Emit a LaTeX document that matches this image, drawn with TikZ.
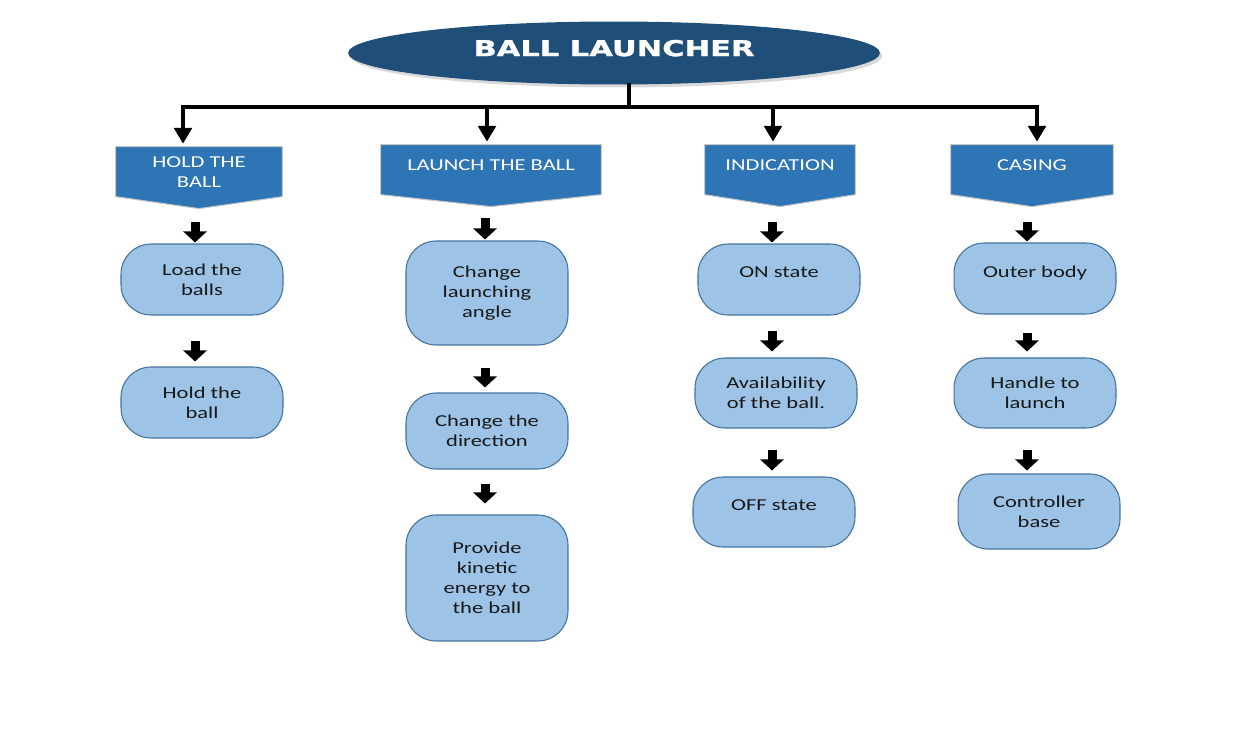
\documentclass[tikz,border=0pt]{standalone}
\usepackage{fontspec}
\setmainfont{Carlito}[FakeStretch=1.35]
\newfontfamily\titlefont{DejaVu Sans}[FakeStretch=1.4, FakeBold=1.5]
\usepackage{tikz}
\usetikzlibrary{positioning}
\usetikzlibrary{shapes}
\usetikzlibrary{arrows.meta}
\usetikzlibrary{shadows}
\usetikzlibrary{backgrounds}

\definecolor{titleBlue}{HTML}{1F4E79}
\definecolor{headBlue}{HTML}{2E75B6}
\definecolor{boxBlue}{HTML}{9DC3E6}
\definecolor{boxLine}{HTML}{41719C}

\tikzset{
	stepBox/.style={rectangle, draw=boxLine, fill=boxBlue, line width=0.6pt, rounded corners=0.6cm, minimum width=3.24cm, align=center, inner sep=0pt, text=black!90, font=\fontsize{9.5}{11.3}\selectfont},
	oneLine/.style={text depth=0.29cm},
	headBox/.style={rectangle, minimum height=0.8cm, align=center, inner sep=0pt, text=white, font=\fontsize{9.5}{11.3}\selectfont},
	busLine/.style={line width=2.3pt, line cap=rect},
	busArrow/.style={line width=2.3pt, -{Triangle[width=10pt,length=9pt]}, shorten >=0.06cm},
	blockArrow/.style 2 args={line width=0.18cm, -{Triangle[width=0.46cm,length=0.22cm]}, shorten <=#1, shorten >=#2}
}

\begin{document}
\begin{tikzpicture}[x=0.02cm, y=-0.02cm]
	\useasboundingbox (0,0) rectangle (1234,730);

	\node[ellipse, fill=titleBlue, minimum width=10.64cm, minimum height=1.26cm, inner sep=0pt, text=white, text depth=0.2cm, font=\titlefont\bfseries\fontsize{12.4}{14}\selectfont, drop shadow={opacity=0.3, shadow xshift=0.05cm, shadow yshift=-0.06cm}](ballTitle) at (614,53){BALL LAUNCHER};

	\coordinate (busMid) at (629,107);
	\coordinate (busHold) at (183,107);
	\coordinate (busLaunch) at (487,107);
	\coordinate (busInd) at (773,107);
	\coordinate (busCase) at (1037,107);
	\draw[busLine](ballTitle.south -| busMid) -- (busMid);
	\draw[busLine](busHold) -- (busCase);

	\node[headBox, minimum width=3.32cm, minimum height=1.0cm](holdHead) at (199,172){HOLD THE\\BALL};
	\node[headBox, minimum width=4.40cm](launchHead) at (491,165){LAUNCH THE BALL};
	\node[headBox, minimum width=3.00cm](indHead) at (780,165){INDICATION};
	\node[headBox, minimum width=3.24cm](caseHead) at (1032,165){CASING};

	\begin{scope}[on background layer]
		\foreach \h in {holdHead, launchHead, indHead, caseHead}
			\filldraw[fill=headBlue, draw=gray!45, line width=0.6pt](\h.north west) -- (\h.north east) -- ([yshift=-1.0cm]\h.north east) -- ([yshift=-1.24cm]\h.north) -- ([yshift=-1.0cm]\h.north west) -- cycle;
	\end{scope}

	\foreach \b/\h in {busHold/holdHead, busLaunch/launchHead, busInd/indHead, busCase/caseHead}
		\draw[busArrow](\b) -- (\b |- \h.north);

	\node[stepBox, minimum height=1.42cm](loadBalls) at (202,279.5){Load the\\balls};
	\node[stepBox, minimum height=1.42cm](holdBall) at (202,402.5){Hold the\\ball};

	\node[stepBox, minimum height=2.08cm](changeAngle) at (487,293){Change\\launching\\angle};
	\node[stepBox, minimum height=1.52cm](changeDir) at (487,431){Change the\\direction};
	\node[stepBox, minimum height=2.52cm](kinEnergy) at (487,578){Provide\\kinetic\\energy to\\the ball};

	\node[stepBox, oneLine, minimum height=1.42cm](onState) at (779,279.5){ON state};
	\node[stepBox, minimum height=1.40cm](ballAvail) at (776,393){Availability\\of the ball.};
	\node[stepBox, oneLine, minimum height=1.40cm](offState) at (774,512){OFF state};

	\node[stepBox, oneLine, minimum height=1.42cm](outerBody) at (1035,278.5){Outer body};
	\node[stepBox, minimum height=1.40cm](handleLaunch) at (1035,393){Handle to\\launch};
	\node[stepBox, minimum height=1.50cm](ctrlBase) at (1039,511.5){Controller\\base};

	\foreach \a/\b/\x/\s/\e in {holdHead/loadBalls/195/0.50cm/0.02cm, loadBalls/holdBall/195/0.50cm/0.10cm,
		launchHead/changeAngle/485/0.66cm/0.02cm, changeAngle/changeDir/485/0.44cm/0.10cm, changeDir/kinEnergy/485/0.28cm/0.22cm,
		indHead/onState/772/0.74cm/0.02cm, onState/ballAvail/772/0.30cm/0.12cm, ballAvail/offState/772/0.42cm/0.12cm,
		caseHead/outerBody/1027/0.74cm/0.02cm, outerBody/handleLaunch/1027/0.36cm/0.12cm, handleLaunch/ctrlBase/1027/0.42cm/0.06cm}
		\draw[blockArrow={\s}{\e}](\a.south -| \x,0) -- (\b.north -| \x,0);

\end{tikzpicture}
\end{document}
